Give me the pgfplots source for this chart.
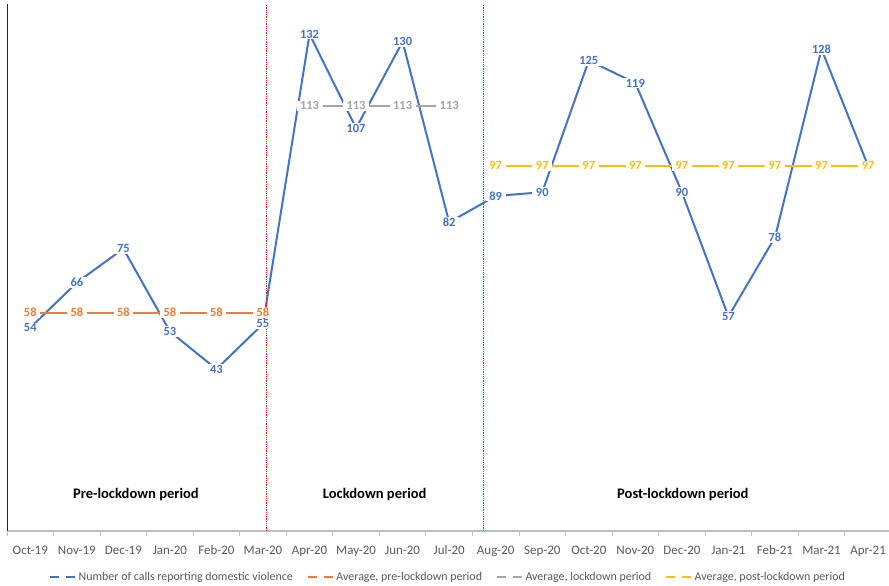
\documentclass[border=0pt]{standalone}
\usepackage{pgfplots}
\pgfplotsset{compat=1.18}
\usepackage{fontspec}
\setmainfont{Carlito}
\definecolor{cblue}{HTML}{4472C4}
\definecolor{corange}{HTML}{ED7D31}
\definecolor{cgray}{HTML}{A5A5A5}
\definecolor{cyellow}{HTML}{FFC000}
\definecolor{ctext}{HTML}{595959}
\definecolor{caxis}{HTML}{BFBFBF}
\begin{document}
\begin{tikzpicture}
\useasboundingbox (0,0) rectangle (889bp,586bp);
\begin{axis}[
  at={(7bp,55bp)}, anchor=south west,
  scale only axis, width=882bp, height=527bp,
  xmin=-0.5, xmax=18.45, ymin=0, ymax=140,
  /pgf/number format/assume math mode=true,
  axis x line*=bottom, axis y line*=left,
  x axis line style={draw=caxis, line width=1.2pt},
  y axis line style={draw=black!85, line width=0.8pt},
  ytick=\empty,
  xtick={0,...,18},
  xticklabels={Oct-19,Nov-19,Dec-19,Jan-20,Feb-20,Mar-20,Apr-20,May-20,Jun-20,Jul-20,Aug-20,Sep-20,Oct-20,Nov-20,Dec-20,Jan-21,Feb-21,Mar-21,Apr-21},
  major x tick style={draw=none},
  minor xtick={-0.5,0.5,...,17.5},
  minor x tick style={draw=caxis, line width=0.8pt},
  tick align=outside, minor tick length=5bp,
  xticklabel style={font=\fontsize{13}{15}\selectfont, text=ctext, yshift=-7bp},
  legend columns=4,
  legend style={at={(0.5,-0.087)}, anchor=center, draw=none, fill=none,
    font=\fontsize{12}{14}\selectfont, text=ctext,
    /tikz/every even column/.append style={column sep=12bp}},
  legend image code/.code={\draw[#1, line width=1.5pt, dash pattern=on 9bp off 7bp] (0,0) -- (26bp,0);},
  clip=false,
]
% lines
\addplot[cblue, line width=2pt, mark=none] coordinates {
(0,54) (1,66) (2,75) (3,53) (4,43) (5,55) (6,132) (7,107) (8,130) (9,82)
(10,89) (11,90) (12,125) (13,119) (14,90) (15,57) (16,78) (17,128) (18,97)};
\addlegendentry{Number of calls reporting domestic violence}
\addplot[corange, line width=2pt, mark=none] coordinates {
(0,58) (1,58) (2,58) (3,58) (4,58) (5,58)};
\addlegendentry{Average, pre-lockdown period}
\addplot[cgray, line width=2pt, mark=none] coordinates {
(6,113) (7,113) (8,113) (9,113)};
\addlegendentry{Average, lockdown period}
\addplot[cyellow, line width=2pt, mark=none] coordinates {
(10,97) (11,97) (12,97) (13,97) (14,97) (15,97) (16,97) (17,97) (18,97)};
\addlegendentry{Average, post-lockdown period}
% red dotted separators
\addplot[red!90!white, densely dotted, line width=0.8pt, forget plot] coordinates {(5.07,0) (5.07,140)};
\addplot[red!90!white, densely dotted, line width=0.8pt, forget plot] coordinates {(9.73,0) (9.73,140)};
% labels
\pgfplotsset{every node near coord/.append style={anchor=center, fill=white, inner xsep=3.5bp, inner ysep=1bp, font=\fontsize{12.5}{14}\selectfont\bfseries}}
\addplot[draw=none, forget plot, nodes near coords, every node near coord/.append style={text=corange}] coordinates {
(0,58) (1,58) (2,58) (3,58) (4,58) (5,58)};
\addplot[draw=none, forget plot, nodes near coords, every node near coord/.append style={text=cgray}] coordinates {
(6,113) (7,113) (8,113) (9,113)};
\addplot[draw=none, forget plot, nodes near coords, every node near coord/.append style={text=cblue}] coordinates {
(0,54) (1,66) (2,75) (3,53) (4,43) (5,55) (6,132) (7,107) (8,130) (9,82)
(10,89) (11,90) (12,125) (13,119) (14,90) (15,57) (16,78) (17,128) (18,97)};
\addplot[draw=none, forget plot, nodes near coords, every node near coord/.append style={text=cyellow}] coordinates {
(10,97) (11,97) (12,97) (13,97) (14,97) (15,97) (16,97) (17,97) (18,97)};
% period labels
\node[font=\fontsize{14.6}{16}\selectfont\bfseries] at (axis cs:2.27,9.6) {Pre-lockdown period};
\node[font=\fontsize{14.6}{16}\selectfont\bfseries] at (axis cs:7.4,9.6) {Lockdown period};
\node[font=\fontsize{14.6}{16}\selectfont\bfseries] at (axis cs:14.02,9.6) {Post-lockdown period};
\end{axis}
\end{tikzpicture}
\end{document}
